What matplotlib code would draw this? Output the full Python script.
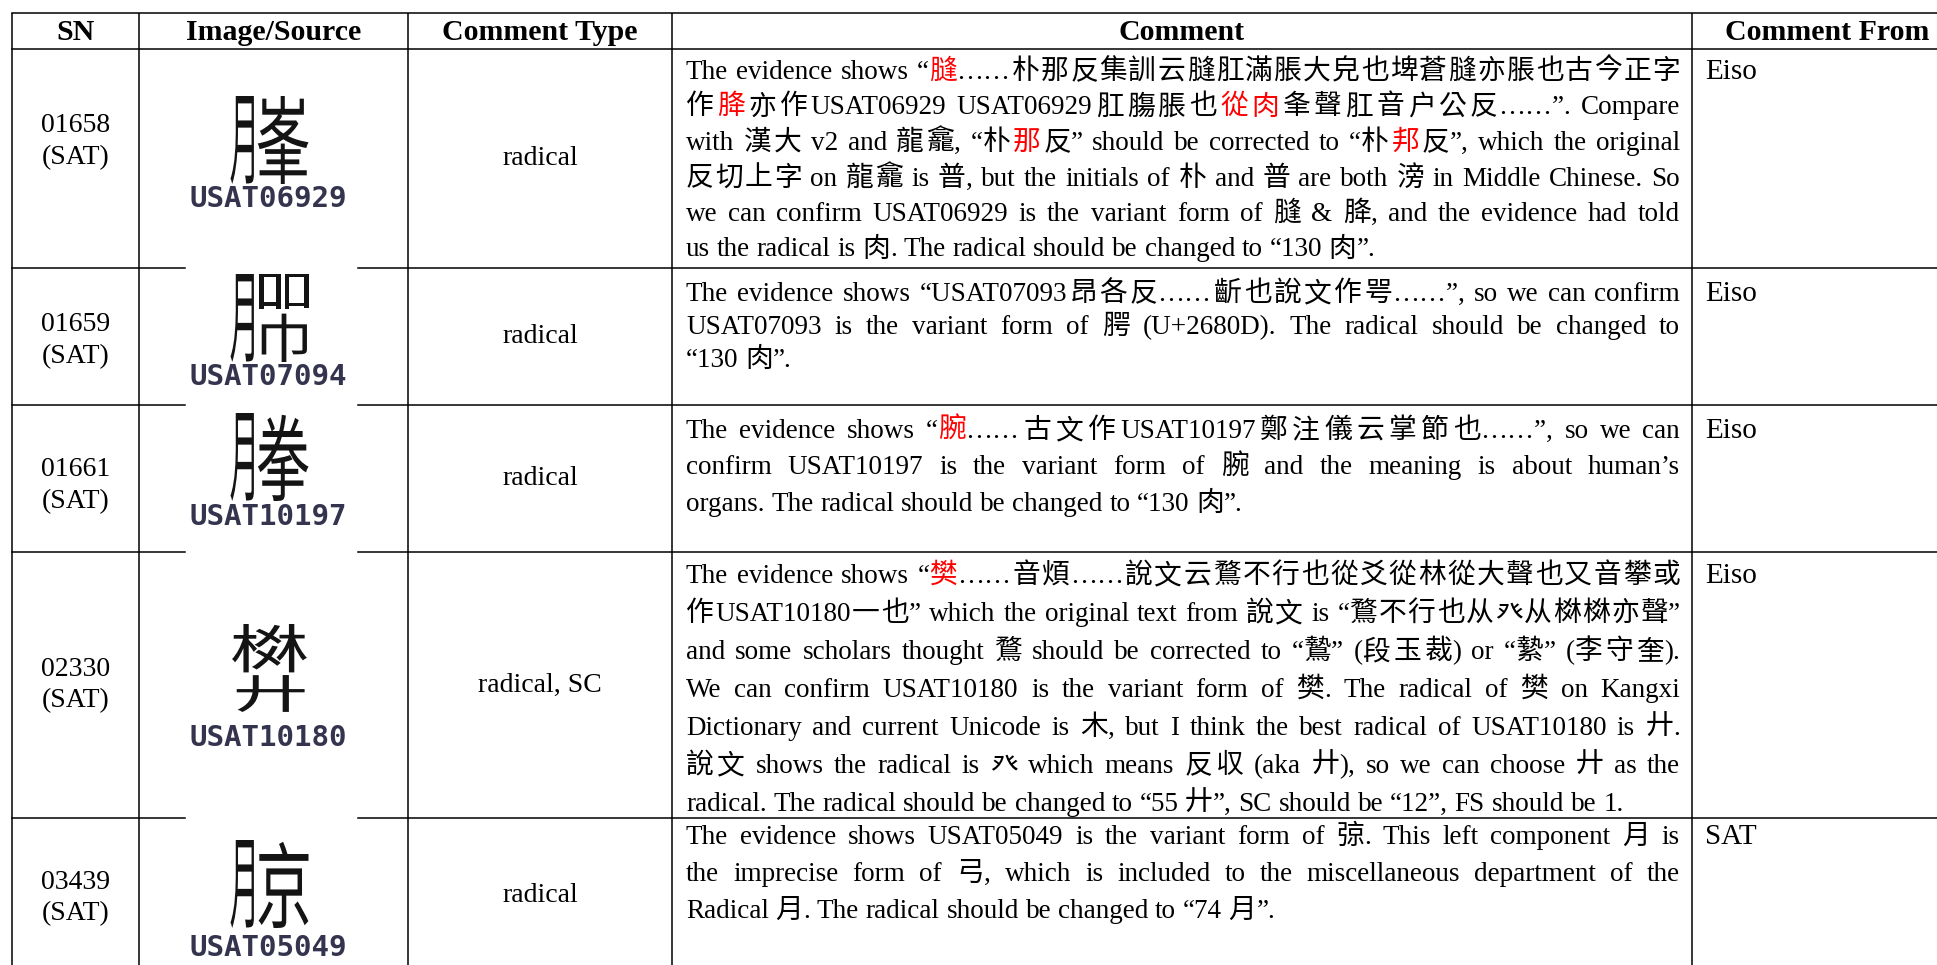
import matplotlib
matplotlib.use("Agg")
import matplotlib.pyplot as plt
from matplotlib import font_manager
from matplotlib.ft2font import FT2Font
from matplotlib.textpath import TextPath
from matplotlib.patches import PathPatch
from matplotlib.font_manager import FontProperties
from matplotlib.transforms import Affine2D

# ---- table content ----
headers = ["SN", "Image/Source", "Comment Type", "Comment", "Comment From"]
sn_list = ["01658\n(SAT)", "01659\n(SAT)", "01661\n(SAT)", "02330\n(SAT)", "03439\n(SAT)"]
source_ids = ["USAT06929", "USAT07094", "USAT10197", "USAT10180", "USAT05049"]
comment_types = ["radical", "radical", "radical", "radical, SC", "radical"]
comment_from = ["Eiso", "Eiso", "Eiso", "Eiso", "SAT"]

# {...} marks red text; one entry per printed line
comments = [
    ["The evidence shows “{膖}……朴那反集訓云膖肛滿脹大皃也埤蒼膖亦脹也古今正字",
     "作{胮}亦作USAT06929 USAT06929肛膓脹也{從肉}夆聲肛音户公反……”. Compare",
     "with 漢大 v2 and 龍龕, “朴{那}反” should be corrected to “朴{邦}反”, which the original",
     "反切上字 on 龍龕 is 普, but the initials of 朴 and 普 are both 滂 in Middle Chinese. So",
     "we can confirm USAT06929 is the variant form of 膖 & 胮, and the evidence had told",
     "us the radical is 肉. The radical should be changed to “130 肉”."],
    ["The evidence shows “USAT07093昂各反……齗也說文作咢……”, so we can confirm",
     "USAT07093 is the variant form of \U0002680D (U+2680D). The radical should be changed to",
     "“130 肉”."],
    ["The evidence shows “{腕}……古文作USAT10197鄭注儀云掌節也……”, so we can",
     "confirm USAT10197 is the variant form of 腕 and the meaning is about human’s",
     "organs. The radical should be changed to “130 肉”."],
    ["The evidence shows “{樊}……音煩……說文云鶩不行也從爻從林從大聲也又音攀或",
     "作USAT10180一也” which the original text from 說文 is “鶩不行也从\U00020B1C从棥棥亦聲”",
     "and some scholars thought 鶩 should be corrected to “鷙” (段玉裁) or “縶” (李守奎).",
     "We can confirm USAT10180 is the variant form of 樊. The radical of 樊 on Kangxi",
     "Dictionary and current Unicode is 木, but I think the best radical of USAT10180 is 廾.",
     "說文 shows the radical is \U00020B1C which means 反収 (aka 廾), so we can choose 廾 as the",
     "radical. The radical should be changed to “55 廾”, SC should be “12”, FS should be 1."],
    ["The evidence shows USAT05049 is the variant form of 弶. This left component 月 is",
     "the imprecise form of 弓, which is included to the miscellaneous department of the",
     "Radical 月. The radical should be changed to “74 月”."],
]

# look-alikes, used only when no installed font has the rare character
rare_subst = {"\U0002680D": "腭", "\U00020B1C": "癶"}

# source glyph images, built from components: (char, x0, y0, x1, y1) as box fractions
glyph_parts = [
    [("月", 0, 0, 0.30, 1), ("峯", 0.35, 0, 1, 1)],
    [("月", 0, 0, 0.30, 1), ("吅", 0.37, 0, 1, 0.40), ("巾", 0.40, 0.45, 0.98, 1)],
    [("月", 0, 0, 0.30, 1), ("拳", 0.35, 0.02, 1, 1)],
    [("棥", 0.02, 0, 0.98, 0.55), ("廾", 0.08, 0.58, 0.95, 1)],
    [("月", 0, 0, 0.30, 1), ("京", 0.36, 0.02, 1, 1)],
]

# ---- layout (pixels, y downward) ----
col_x = [12, 139, 408, 672, 1692, 1962]
row_y = [13, 49, 268, 405, 552, 818, 972]
img_gap = (185, 358)
glyph_top = [96, 274, 413, 624, 840]
label_y = [199, 377, 517, 738, 948]
first_line = [22, 25, 25, 23, 18]
line_step = [35.5, 33, 36.5, 38, 37]
sn_shift = [-17, 4, 7, 0, 3]
pad_l, pad_r = 14, 12

CJK = ["Noto Sans CJK TC", "Noto Sans CJK JP", "Noto Sans CJK SC", "Noto Sans CJK KR"]
SERIF = ["Liberation Serif"] + CJK + ["DejaVu Sans"]
FS_LAT, FS_CJK = 19.5, 20.0


def font_has(ch):
    for fam in CJK:
        try:
            path = font_manager.findfont(FontProperties(family=fam), fallback_to_default=False)
            if ord(ch) in FT2Font(path).get_charmap():
                return True
        except Exception:
            pass
    return False


for rare, sub in rare_subst.items():
    if not font_has(rare):
        comments = [[ln.replace(rare, sub) for ln in para] for para in comments]

fig = plt.figure(figsize=(19.37, 9.65), dpi=100)
ax = fig.add_axes([0, 0, 1, 1])
ax.set_xlim(0, 1937)
ax.set_ylim(965, 0)
ax.axis("off")

# ---- grid ----
lw = 1.1
for x in col_x:
    ax.plot([x, x], [row_y[0], row_y[-1]], color="black", lw=lw, solid_capstyle="butt")
for i, y in enumerate(row_y):
    if i < 2:
        ax.plot([col_x[0], col_x[-1]], [y, y], color="black", lw=lw)
    else:
        ax.plot([col_x[0], img_gap[0]], [y, y], color="black", lw=lw)
        ax.plot([img_gap[1], col_x[-1]], [y, y], color="black", lw=lw)

# ---- headers ----
for j, h in enumerate(headers):
    cx = (col_x[j] + col_x[j + 1]) / 2
    ax.text(cx, (row_y[0] + row_y[1]) / 2 + 1, h, ha="center", va="center",
            fontsize=21.5, fontweight="bold", family=SERIF)

# ---- simple cells ----
for i in range(5):
    cy = (row_y[i + 1] + row_y[i + 2]) / 2
    ax.text((col_x[0] + col_x[1]) / 2, cy + sn_shift[i], sn_list[i], ha="center", va="center",
            fontsize=20, family=SERIF, linespacing=1.35)
    ax.text((col_x[2] + col_x[3]) / 2, cy, comment_types[i], ha="center", va="center",
            fontsize=20, family=SERIF)
    ax.text(col_x[4] + 13, row_y[i + 1] + first_line[i] + 8, comment_from[i],
            ha="left", va="baseline", fontsize=21, family=SERIF)

# ---- source glyphs and ids ----
fp = FontProperties(family="Noto Sans CJK TC")
gw, gh = 78, 88
gx = (col_x[1] + col_x[2]) / 2 - 4 - gw / 2
for i in range(5):
    for ch, fx0, fy0, fx1, fy1 in glyph_parts[i]:
        p = TextPath((0, 0), ch, size=100, prop=fp)
        bb = p.get_extents()
        bw, bh = (fx1 - fx0) * gw, (fy1 - fy0) * gh
        tr = (Affine2D().translate(-bb.x0, -bb.y1)
              .scale(bw / bb.width, -bh / bb.height)
              .translate(gx + fx0 * gw, glyph_top[i] + fy0 * gh))
        ax.add_patch(PathPatch(tr.transform_path(p), fc="#141414", lw=0))
    ax.text((col_x[1] + col_x[2]) / 2 - 5, label_y[i], source_ids[i], ha="center", va="center",
            fontsize=21, fontweight="bold", family="DejaVu Sans Mono", color="#34344e")

# ---- justified comment text ----
NB_BEFORE = ",.;:)”’…"
NB_AFTER = "“(‘"


def is_cjk(c):
    return c is not None and ord(c) >= 0x2E80


def split_pieces(line):
    chars, red = [], False
    for c in line:
        if c == "{":
            red = True
        elif c == "}":
            red = False
        else:
            chars.append((c, "#ff0000" if red else "black"))
    pieces, gap, prev = [], "start", None
    for c, color in chars:
        if c == " ":
            gap, prev = "space", None
            continue
        cj = is_cjk(c)
        if not pieces or gap == "space":
            pieces.append([c, color, cj, gap])
        else:
            last = pieces[-1]
            if not cj and not last[2] and last[1] == color:
                last[0] += c
            else:
                boundary = (cj or last[2]) and c not in NB_BEFORE and prev not in NB_AFTER
                pieces.append([c, color, cj, "cjk" if boundary else "none"])
        gap, prev = None, c
    return pieces


renderer = fig.canvas.get_renderer()
width = col_x[4] - col_x[3] - pad_l - pad_r


def space_width(fs):
    a = ax.text(0, 0, "x x", fontsize=fs, family=SERIF)
    b = ax.text(0, 0, "xx", fontsize=fs, family=SERIF)
    w = a.get_window_extent(renderer).width - b.get_window_extent(renderer).width
    a.remove()
    b.remove()
    return w


for i, para in enumerate(comments):
    for k, line in enumerate(para):
        pcs = split_pieces(line)
        objs = [ax.text(0, 0, t, color=c, fontsize=FS_CJK if cj else FS_LAT,
                        family=CJK if cj else SERIF, va="baseline", ha="left")
                for t, c, cj, g in pcs]
        scale = 1.0
        for _ in range(2):
            for o, p in zip(objs, pcs):
                o.set_fontsize((FS_CJK if p[2] else FS_LAT) * scale)
            sw = space_width(FS_LAT * scale)
            ws = [o.get_window_extent(renderer).width for o in objs]
            nat = sum(ws) + sw * sum(1 for p in pcs if p[3] == "space")
            if nat <= width:
                break
            scale *= width / nat * 0.998
        last = k == len(para) - 1
        ngap = sum(1 for p in pcs if p[3] in ("space", "cjk"))
        extra = 0 if (last or ngap == 0) else max(0, (width - nat) / ngap)
        x = col_x[3] + pad_l
        base = row_y[i + 1] + first_line[i] + 8 + k * line_step[i]
        for p, o, w in zip(pcs, objs, ws):
            if p[3] == "space":
                x += sw + extra
            elif p[3] == "cjk":
                x += extra
            o.set_position((x, base))
            x += w

fig.savefig("out.png", dpi=100)
